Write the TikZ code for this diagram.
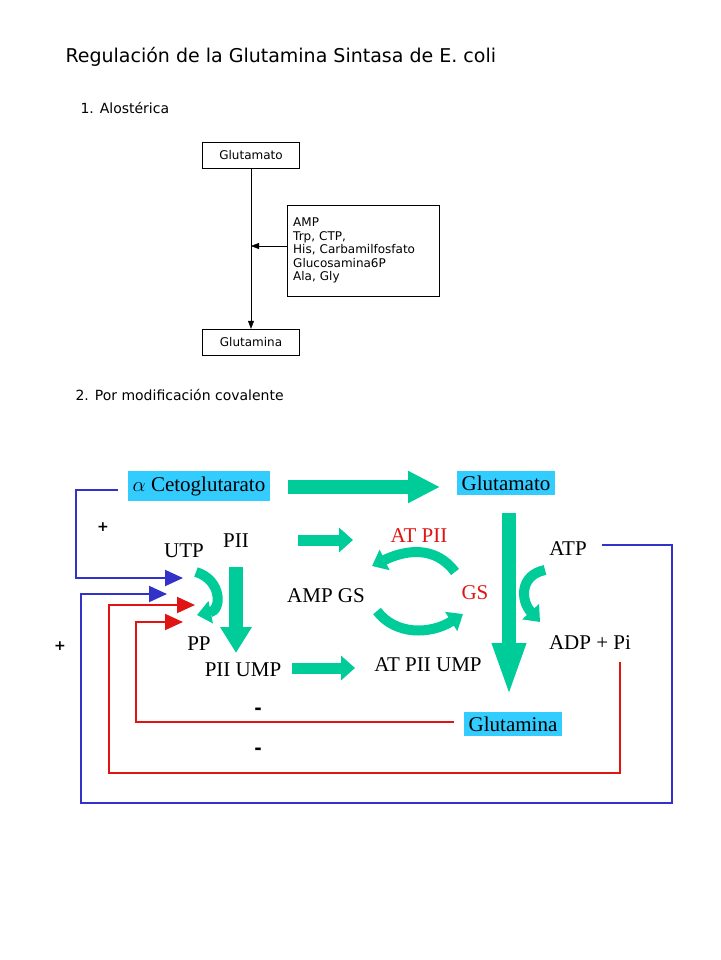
\documentclass[tikz,border=0pt]{standalone}
\usepackage{fontspec}
\setmainfont{DejaVu Sans}
\newfontfamily\timesf{Liberation Serif}
\usetikzlibrary{positioning, arrows.meta}
\definecolor{boxcyan}{RGB}{51,204,255}
\definecolor{arrgreen}{RGB}{0,204,153}
\definecolor{arrdark}{RGB}{0,150,110}
\definecolor{lblue}{RGB}{50,50,200}
\definecolor{lred}{RGB}{225,20,20}
\tikzset{
  smallbox/.style={draw, font=\fontsize{12}{14}\selectfont, inner sep=4pt},
  cbox/.style={fill=boxcyan, font=\timesf\fontsize{21}{23}\selectfont, inner sep=5pt},
  lbl/.style={font=\timesf\fontsize{21}{23}\selectfont},
  redlbl/.style={lbl, text=lred},
  bigarr/.style={draw=arrgreen, line width=14pt, -{Triangle[width=30pt,length=#1]}},
  smarr/.style={draw=arrgreen, line width=11pt, -{Triangle[width=24pt,length=14pt]}},
  curv/.style={draw=arrgreen, line width=10pt, -{Triangle[width=22pt,length=14pt]}},
  fb/.style={line width=2pt, draw=#1, -{Triangle[width=16pt,length=18pt]}},
}
\begin{document}
\begin{tikzpicture}[x=1pt, y=-1pt]
    \useasboundingbox (0,0) rectangle (720,960);
    % encabezado
    \node[anchor=west, font=\fontsize{19}{22}\selectfont] (title) at (62,57) {Regulación de la Glutamina Sintasa de E. coli};
    \node[anchor=west, font=\fontsize{14}{16}\selectfont] (s1) at (77,108) {1. Alostérica};
    \node[anchor=west, font=\fontsize{14}{16}\selectfont] (s2) at (72,395) {2. Por modificación covalente};

    % parte alosterica
    \node[smallbox, minimum width=97pt, minimum height=26pt] (glu1) at (251,155) {Glutamato};
    \node[smallbox, minimum width=97pt, minimum height=26pt] (gln1) at (251,342) {Glutamina};
    \node[smallbox, anchor=north west, text width=140pt, minimum height=91pt, align=left,
          inner sep=6pt, font=\fontsize{12}{13.5}\selectfont] (efe) at (287,205)
          {AMP\\Trp, CTP,\\His, Carbamilfosfato\\Glucosamina6P\\Ala, Gly};
    \draw[-{Triangle[width=6pt,length=8pt]}] (glu1) -- (gln1);
    \draw[-{Triangle[width=6pt,length=8pt]}] (efe.west |- 0,246) -- (251,246);

    % modificacion covalente
    \node[cbox] (ceto) at (199,486) {$\alpha$ Cetoglutarato};
    \node[cbox] (glu) at (506,483) {Glutamato};
    \node[cbox] (gln) at (513,724) {Glutamina};

    \node[lbl] (utp) at (184,551) {UTP};
    \node[lbl] (pii) at (236,541) {PII};
    \node[lbl] (pp) at (199,644) {PP};
    \node[lbl] (piiump) at (243,670) {PII UMP};
    \node[lbl] (ampgs) at (326,596) {AMP GS};
    \node[redlbl] (atpii) at (419,536) {AT PII};
    \node[redlbl] (gs) at (475,593) {GS};
    \node[lbl] (atpiiump) at (428,665) {AT PII UMP};
    \node[lbl] (atp) at (568,549) {ATP};
    \node[lbl] (adp) at (590,643) {ADP + Pi};

    \draw[bigarr=32pt] (288,487) -- (440,487);
    \draw[bigarr=55pt] (509,513) -- (509,698);
    \draw[bigarr=26pt] (236,567) -- (236,653);
    \draw[smarr] (298,540) -- (353,540);
    \draw[smarr] (292,668) -- (355,668);

    \draw[curv] (196,572) .. controls (222,580) and (222,610) .. (197,615);
    \draw[curv] (455,572) .. controls (435,545) and (405,550) .. (372,566);
    \draw[curv] (377,611) .. controls (395,635) and (430,635) .. (463,614);
    \draw[curv] (545,570) .. controls (520,575) and (520,600) .. (540,622);

    \node[font=\bfseries\fontsize{14}{16}\selectfont] (p1) at (103,527) {+};
    \node[font=\bfseries\fontsize{14}{16}\selectfont] (p2) at (60,646) {+};
    \node[font=\bfseries\fontsize{18}{18}\selectfont] (m1) at (258,711) {-};
    \node[font=\bfseries\fontsize{18}{18}\selectfont] (m2) at (258,751) {-};

    \coordinate (b1) at (183,578);
    \coordinate (b2) at (167,594);
    \coordinate (r1) at (195,605);
    \coordinate (r2) at (183,622);
    \draw[fb=lblue] (ceto.west) ++(-10,4) -| (76,578) -- (b1);
    \draw[fb=lblue] (atp.east) ++(12,-4) -| (672,803) -| (81,594) -- (b2);
    \draw[fb=lred] (adp.south east) ++(-14,8) |- (109,773) |- (r1);
    \draw[fb=lred] (gln.west) ++(-9,-2) -| (136,622) -- (r2);
\end{tikzpicture}
\end{document}
